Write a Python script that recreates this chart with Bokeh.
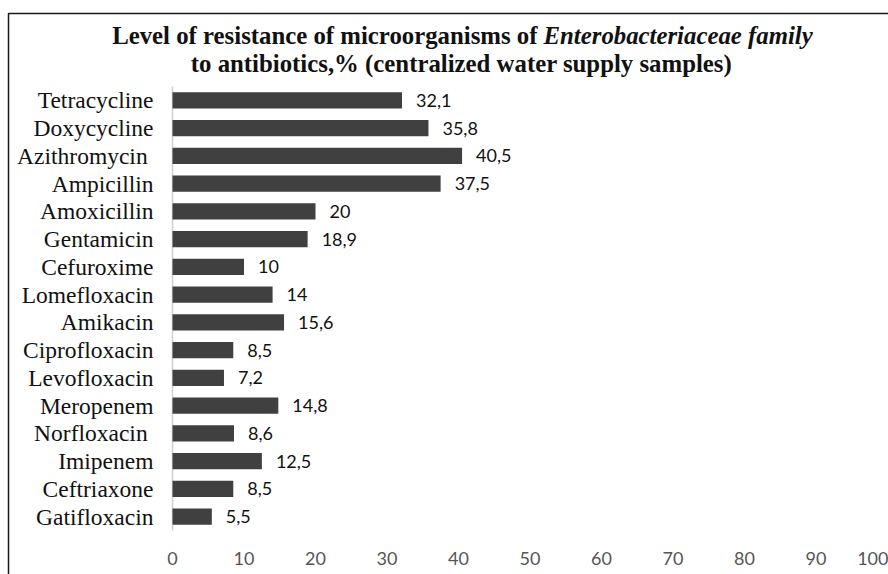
from bokeh.plotting import figure
from bokeh.models import Range1d, Label, BoxAnnotation, ColumnDataSource, LabelSet
from bokeh.core.properties import value
from bokeh.embed import file_html
from bokeh.resources import INLINE

antibiotics = ["Tetracycline", "Doxycycline", "Azithromycin\u00a0", "Ampicillin", "Amoxicillin",
               "Gentamicin", "Cefuroxime", "Lomefloxacin", "Amikacin", "Ciprofloxacin",
               "Levofloxacin", "Meropenem", "Norfloxacin\u00a0", "Imipenem", "Ceftriaxone",
               "Gatifloxacin"]
resistance = [32.1, 35.8, 40.5, 37.5, 20, 18.9, 10, 14, 15.6, 8.5, 7.2, 14.8, 8.6, 12.5, 8.5, 5.5]
x_ticks = [0, 10, 20, 30, 40, 50, 60, 70, 80, 90, 100]
title_line1_a = "Level of resistance of microorganisms of"
title_line1_b = "Enterobacteriaceae family"
title_line2 = "to antibiotics,% (centralized water supply samples)"

n = len(antibiotics)
ypos = [n - 1 - i for i in range(n)]          # first category on top
value_labels = [f"{v:g}".replace(".", ",") for v in resistance]
src = ColumnDataSource(dict(name=antibiotics, val=resistance, lab=value_labels, y=ypos))

# layout (pixels)
W, H = 888, 574
X0_PX, X100_PX = 172, 887   # where 0 and 100 fall
ROWS_TOP_PX, ROWS_BOTTOM_PX = 86, 530
px_per_unit_x = (X100_PX - X0_PX) / 100.0
px_per_row = (ROWS_BOTTOM_PX - ROWS_TOP_PX) / n
x_start = -X0_PX / px_per_unit_x
x_end = x_start + W / px_per_unit_x
band_bottom = -0.5
band_top = n - 0.5
y_start = band_bottom - (H - ROWS_BOTTOM_PX) / px_per_row
y_end = band_top + ROWS_TOP_PX / px_per_row

p = figure(width=W, height=H, output_backend="svg", toolbar_location=None,
           x_range=Range1d(x_start, x_end), y_range=Range1d(y_start, y_end),
           min_border_left=0, min_border_right=0, min_border_top=0, min_border_bottom=0)
p.outline_line_color = None
p.xgrid.grid_line_color = None
p.ygrid.grid_line_color = None
p.yaxis.visible = False
p.background_fill_color = "white"
p.border_fill_color = "white"

# category axis line
p.segment(x0=[0], y0=[band_bottom], x1=[0], y1=[band_top], line_color="#d0d0d0", line_width=1.5)

p.hbar(y="y", right="val", left=0, height=0.58, source=src, fill_color="#404040", line_color=None)

# value labels
p.add_layout(LabelSet(x="val", y="y", text="lab", source=src, x_offset=14,
                      text_baseline="middle", text_align="left",
                      text_font=value("Lato"), text_font_size="18px", text_color="#111111"))
# category labels
p.text(x=0, y="y", text="name", source=src, x_offset=-19, text_align="right",
       text_baseline="middle", text_font=value("Liberation Serif"), text_font_size="23.5px",
       text_color="#111111")

p.xaxis.fixed_location = band_bottom
p.xaxis.ticker = x_ticks
p.xaxis.axis_line_color = None
p.xaxis.major_tick_line_color = None
p.xaxis.minor_tick_line_color = None
p.xaxis.major_label_text_color = "#555555"
p.xaxis.major_label_text_font = "Lato"
p.xaxis.major_label_text_font_size = "18px"
p.xaxis.major_label_standoff = 15

# outer border (top and left)
p.add_layout(BoxAnnotation(left=8, right=3000, top=13, bottom=3000,
                           left_units="canvas", right_units="canvas",
                           top_units="canvas", bottom_units="canvas",
                           fill_alpha=0, line_color="#1a1a1a", line_alpha=1.0, line_width=1.5))

tf = "Liberation Serif"
TS = "24.8px"
p.add_layout(Label(x=537, y=35, x_units="canvas", y_units="canvas", text=title_line1_a,
                   text_align="right", text_baseline="alphabetic", text_font=tf,
                   text_font_style="bold", text_font_size=TS, text_color="#111111"))
p.add_layout(Label(x=543, y=35, x_units="canvas", y_units="canvas", text=title_line1_b,
                   text_align="left", text_baseline="alphabetic", text_font=tf,
                   text_font_style="bold italic", text_font_size=TS, text_color="#111111"))
p.add_layout(Label(x=461, y=63, x_units="canvas", y_units="canvas", text=title_line2,
                   text_align="center", text_baseline="alphabetic", text_font=tf,
                   text_font_style="bold", text_font_size=TS, text_color="#111111"))

open("out.html", "w").write(file_html(p, INLINE))
